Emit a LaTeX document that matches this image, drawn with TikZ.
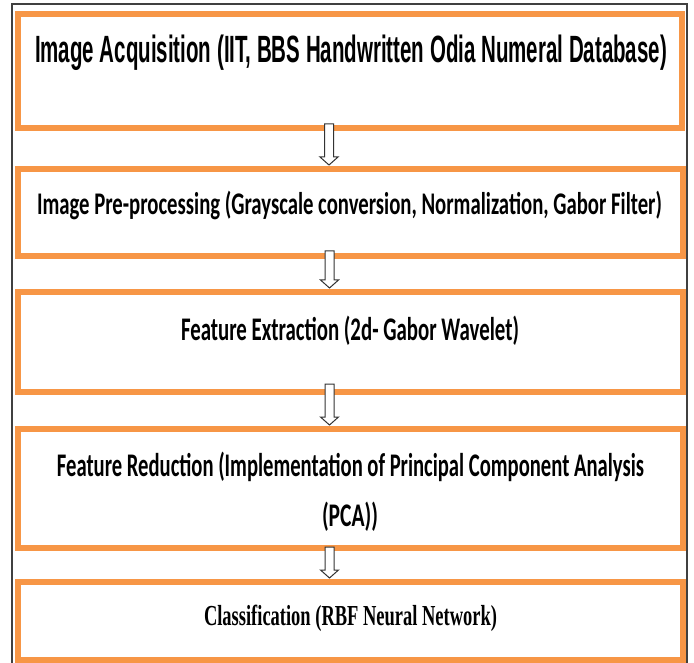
\documentclass[tikz,border=0pt]{standalone}
\usepackage{fontspec}
\usepackage{graphicx}
\usetikzlibrary{calc}
\newfontfamily\arialf{Liberation Sans}
\newfontfamily\calibf{Carlito}
\newfontfamily\timesf{Liberation Serif}
\definecolor{boxorange}{HTML}{F79646}
\newcommand\hollowarrow[3]{%
  \draw[harrow] let \p1=($(#1.south)+(-21,0)$), \p2=($(#2.north)+(-21,0)$) in
    (\x1-4.5pt,\y1+#3pt) -- (\x1+4.5pt,\y1+#3pt) -- (\x1+4.5pt,\y2+12pt) --
    (\x1+9pt,\y2+12pt) -- (\x1,\y2+4pt) -- (\x1-9pt,\y2+12pt) --
    (\x1-4.5pt,\y2+12pt) -- cycle;}
\begin{document}
\begin{tikzpicture}[x=1pt,y=-1pt,
  box/.style={rectangle, draw=boxorange, line width=5.5pt, minimum width=665pt,
              inner sep=0pt, outer sep=0pt},
  lbl/.style={anchor=base, inner sep=0pt, outer sep=0pt, text=black},
  harrow/.style={draw=black!80, line width=1pt, fill=white, line join=miter}]
\useasboundingbox (0,0) rectangle (694,663);
% outer frame
\draw[black!75, line width=1.5pt] (12,663) -- (12,4) -- (687,4) -- (687,663);
% boxes
\node[box, minimum width=664pt, minimum height=114pt] (b1) at (350,71) {};
\node[box, minimum height=87pt]  (b2) at (350.5,212.5) {};
\node[box, minimum height=100pt] (b3) at (350.5,342) {};
\node[box, minimum height=119pt] (b4) at (350.5,488.5) {};
\node[box, minimum height=78pt]  (b5) at (350.5,621) {};
% texts
\node[lbl] (t1) at (351,63) {\resizebox{632pt}{\height}{\arialf\bfseries\fontsize{38}{40}\selectfont Image Acquisition (IIT, BBS Handwritten Odia Numeral Database)}};
\node[lbl] (t2) at (349.5,215) {\resizebox{625pt}{\height}{\calibf\bfseries\fontsize{31.5}{34}\selectfont Image Pre-processing (Grayscale conversion, Normalization, Gabor Filter)}};
\node[lbl] (t3) at (350,341) {\resizebox{338pt}{\height}{\calibf\bfseries\fontsize{33}{36}\selectfont Feature Extraction (2d- Gabor Wavelet)}};
\node[lbl] (t4a) at (350.5,476) {\resizebox{587pt}{\height}{\calibf\bfseries\fontsize{33}{36}\selectfont Feature Reduction (Implementation of Principal Component Analysis}};
\node[lbl] (t4b) at (350,526) {\resizebox{56pt}{\height}{\calibf\bfseries\fontsize{33}{36}\selectfont (PCA))}};
\node[lbl] (t5) at (350.5,625) {\resizebox{293pt}{\height}{\timesf\bfseries\fontsize{29}{31}\selectfont Classification (RBF Neural Network)}};
% arrows
\hollowarrow{b1}{b2}{4}
\hollowarrow{b2}{b3}{5}
\hollowarrow{b3}{b4}{8}
\hollowarrow{b4}{b5}{1}
\end{tikzpicture}
\end{document}
